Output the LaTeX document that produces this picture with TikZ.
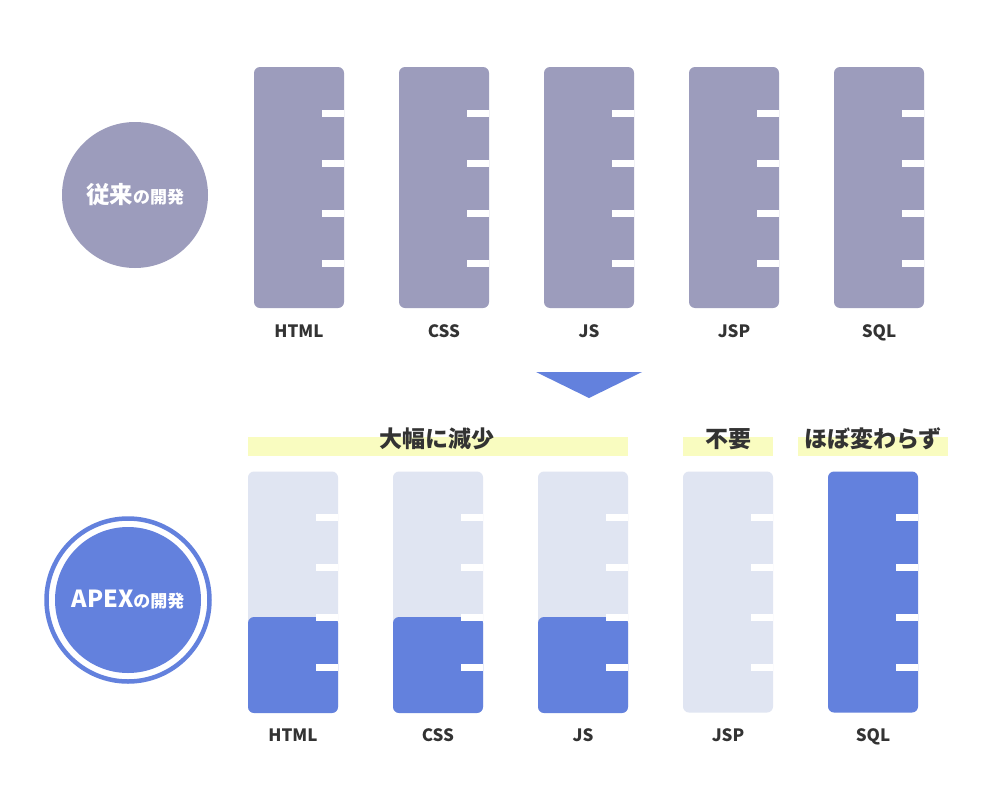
\documentclass[tikz,border=0pt]{standalone}
\usepackage{fontspec}
\setmainfont{Noto Sans CJK JP}
\definecolor{oldgrey}{HTML}{9C9CBC}
\definecolor{apexblue}{HTML}{6381DD}
\definecolor{lightbar}{HTML}{E0E5F2}
\definecolor{hilite}{HTML}{F9FCC0}
\definecolor{ink}{HTML}{333333}
\tikzset{
  barshape/.style={rectangle, rounded corners=6pt, inner sep=0pt, minimum width=90pt, minimum height=241pt},
  topbar/.style={barshape, fill=oldgrey},
  lightbarbox/.style={barshape, fill=lightbar},
  bluebar/.style={barshape, fill=apexblue},
  lowpart/.style={rectangle, rounded corners=6pt, inner sep=0pt, minimum width=90pt, minimum height=96pt, fill=apexblue},
  barlabel/.style={text=ink, font=\bfseries\fontsize{17}{20}\selectfont, inner sep=0pt, anchor=base},
  headlabel/.style={text=ink, font=\bfseries\fontsize{23}{26}\selectfont, inner sep=0pt},
  band/.style={fill=hilite}
}
\begin{document}
\begin{tikzpicture}[x=1pt,y=-1pt]
\useasboundingbox[fill=white] (0,0) rectangle (1000,800);
% circles
\node[circle, fill=oldgrey, minimum size=146pt, inner sep=0pt, text=white, font=\bfseries] (c1) at (135,195)
  {{\fontsize{23.5}{26}\selectfont 従来}{\fontsize{17}{20}\selectfont の開発}};
\node[circle, draw=apexblue, line width=4.5pt, minimum size=163pt, inner sep=0pt] (c2ring) at (128,600) {};
\node[circle, fill=apexblue, minimum size=146pt, inner sep=0pt, text=white, font=\bfseries] (c2) at (128,600)
  {{\fontsize{23.5}{26}\selectfont APEX}{\fontsize{17}{20}\selectfont の開発}};
% top bars
\foreach \n/\cx/\lab in {1/299/HTML,2/444/CSS,3/589/JS,4/734/JSP,5/879/SQL}{
  \node[topbar] (t\n) at (\cx,187.5) {};
  \foreach \yy in {113,163,213,263}{
    \fill[white] (\cx+23,\yy-3.5) rectangle (\cx+45,\yy+3.5);
  }
  \node[barlabel] (tl\n) at (\cx,337) {\lab};
}
% arrow
\fill[apexblue] (536,372) -- (642,372) -- (589,398) -- cycle;
% bands
\fill[band] (248,437) rectangle (628,456);
\fill[band] (683,437) rectangle (773,456);
\fill[band] (798,437) rectangle (948,456);
\node[headlabel] (h1) at (437,439) {大幅に減少};
\node[headlabel] (h2) at (728,439) {不要};
\node[headlabel] (h3) at (873,439) {ほぼ変わらず};
% bottom bars
\foreach \n/\cx/\lab in {1/293/HTML,2/438/CSS,3/583/JS}{
  \node[lightbarbox] (b\n) at (\cx,592) {};
  \node[lowpart] (p\n) at (\cx,665) {};
}
\node[lightbarbox] (b4) at (728,592) {};
\node[bluebar] (b5) at (873,592) {};
\foreach \n/\cx/\lab in {1/293/HTML,2/438/CSS,3/583/JS,4/728/JSP,5/873/SQL}{
  \foreach \yy in {517,567,617,667}{
    \fill[white] (\cx+23,\yy-3.5) rectangle (\cx+45,\yy+3.5);
  }
  \node[barlabel] (bl\n) at (\cx,741) {\lab};
}
\end{tikzpicture}
\end{document}
